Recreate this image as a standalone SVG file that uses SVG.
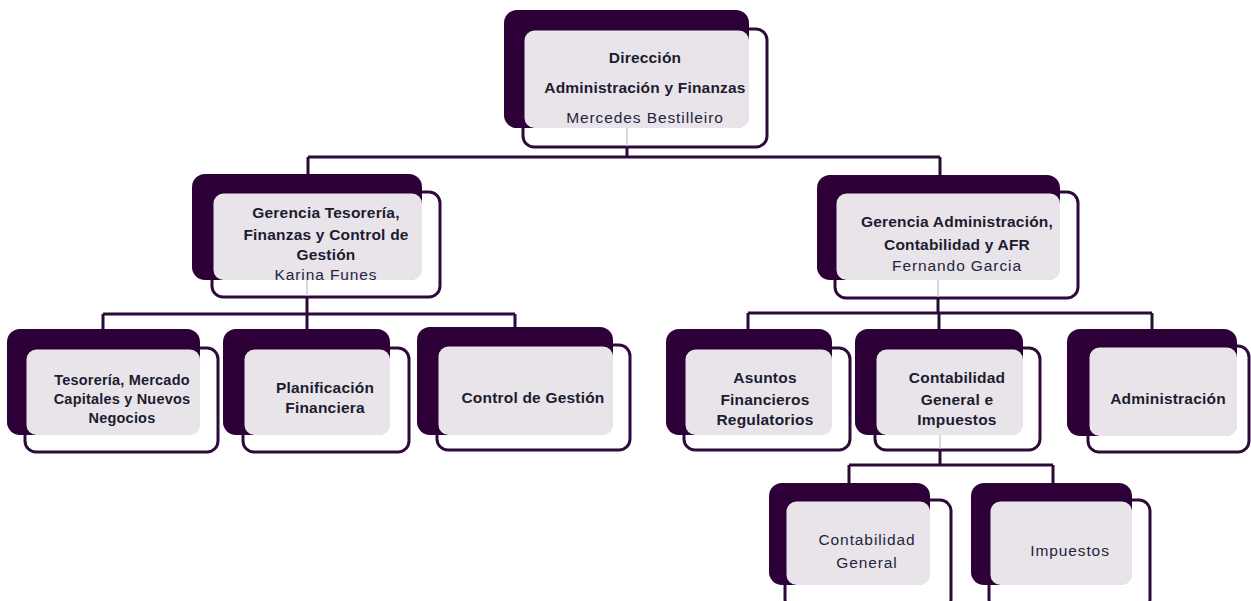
<svg xmlns="http://www.w3.org/2000/svg" width="1251" height="601" viewBox="0 0 1251 601">
<style>
.back{fill:#2d0038;}
.front{fill:#ffffff;stroke:#2d0a3a;stroke-width:3;}
.ov{fill:#e8e4ea;}
.conn{fill:none;stroke:#2a0a38;stroke-width:3;}
.ghost{fill:none;stroke:#dcd8e0;stroke-width:2;}
text{font-family:"Liberation Sans",Arial,sans-serif;fill:#1c1c30;text-anchor:middle;}
.b{font-weight:bold;font-size:15.5px;letter-spacing:0.2px;}
.s{font-size:14.5px;}
.n{font-size:15.5px;letter-spacing:0.9px;fill:#24243c;}
</style>
<rect width="1251" height="601" fill="#ffffff"/>
<g id="connectors">
<path class="conn" d="M627 147 V157 M308 157 H940 M308 157 V176 M940 157 V176"/>
<path class="conn" d="M307 297 V314 M103 314 H515 M103 314 V330 M307 314 V330 M515 314 V328"/>
<path class="conn" d="M938 298 V313 M748 313 H1152 M748 313 V330 M939 313 V330 M1152 313 V330"/>
<path class="conn" d="M940 450 V465 M849 465 H1053 M849 465 V484 M1053 465 V484"/>
</g>
<g id="n-direccion">
<rect class="front" x="523" y="29" width="244" height="118" rx="11"/>
<rect class="back" x="504" y="10" width="245" height="118" rx="13"/>
<rect class="ov" x="524.5" y="30.5" width="224.5" height="97.5" rx="10"/>
<line class="ghost" x1="627" y1="128" x2="627" y2="145.5"/>
<text class="b" x="645" y="63">Dirección</text>
<text class="b" x="645" y="93">Administración y Finanzas</text>
<text class="n" x="645" y="123">Mercedes Bestilleiro</text>
</g>
<g id="n-gerencia-tesoreria">
<rect class="front" x="212" y="192" width="228" height="105" rx="11"/>
<rect class="back" x="192" y="174" width="230" height="106" rx="13"/>
<rect class="ov" x="213.5" y="193.5" width="208.5" height="86.5" rx="10"/>
<line class="ghost" x1="307" y1="280" x2="307" y2="295.5"/>
<text class="b" x="326" y="218">Gerencia Tesorería,</text>
<text class="b" x="326" y="240">Finanzas y Control de</text>
<text class="b" x="326" y="260">Gestión</text>
<text class="n" x="326" y="280">Karina Funes</text>
</g>
<g id="n-gerencia-admin">
<rect class="front" x="835" y="192" width="243" height="106" rx="11"/>
<rect class="back" x="817" y="175" width="243" height="105" rx="13"/>
<rect class="ov" x="836.5" y="193.5" width="223.5" height="86.5" rx="10"/>
<line class="ghost" x1="938" y1="280" x2="938" y2="296.5"/>
<text class="b" x="957" y="227">Gerencia Administración,</text>
<text class="b" x="957" y="250">Contabilidad y AFR</text>
<text class="n" x="957" y="271">Fernando Garcia</text>
</g>
<g id="n-tesoreria">
<rect class="front" x="25" y="348" width="193" height="104" rx="11"/>
<rect class="back" x="7" y="329" width="193" height="106" rx="13"/>
<rect class="ov" x="26.5" y="349.5" width="173.5" height="85.5" rx="10"/>
<text class="b s" x="122" y="385">Tesorería, Mercado</text>
<text class="b s" x="122" y="404">Capitales y Nuevos</text>
<text class="b s" x="122" y="423">Negocios</text>
</g>
<g id="n-planificacion">
<rect class="front" x="243" y="348" width="166" height="104" rx="11"/>
<rect class="back" x="223" y="329" width="167" height="106" rx="13"/>
<rect class="ov" x="244.5" y="349.5" width="145.5" height="85.5" rx="10"/>
<text class="b" x="325" y="393">Planificación</text>
<text class="b" x="325" y="413">Financiera</text>
</g>
<g id="n-control">
<rect class="front" x="437" y="345" width="193" height="105" rx="11"/>
<rect class="back" x="417" y="327" width="196" height="108" rx="13"/>
<rect class="ov" x="438.5" y="346.5" width="174.5" height="88.5" rx="10"/>
<text class="b" x="533" y="403">Control de Gestión</text>
</g>
<g id="n-asuntos">
<rect class="front" x="684" y="348" width="166" height="102" rx="11"/>
<rect class="back" x="666" y="329" width="166" height="106" rx="13"/>
<rect class="ov" x="685.5" y="349.5" width="146.5" height="85.5" rx="10"/>
<text class="b" x="765" y="383">Asuntos</text>
<text class="b" x="765" y="405">Financieros</text>
<text class="b" x="765" y="425">Regulatorios</text>
</g>
<g id="n-contabilidad-impuestos">
<rect class="front" x="875" y="348" width="165" height="102" rx="11"/>
<rect class="back" x="855" y="329" width="168" height="106" rx="13"/>
<rect class="ov" x="876.5" y="349.5" width="146.5" height="85.5" rx="10"/>
<line class="ghost" x1="940" y1="435" x2="940" y2="448.5"/>
<text class="b" x="957" y="383">Contabilidad</text>
<text class="b" x="957" y="405">General e</text>
<text class="b" x="957" y="425">Impuestos</text>
</g>
<g id="n-administracion">
<rect class="front" x="1088" y="346" width="161" height="106" rx="11"/>
<rect class="back" x="1067" y="329" width="170" height="107" rx="13"/>
<rect class="ov" x="1089.5" y="347.5" width="147.5" height="88.5" rx="10"/>
<text class="b" x="1168" y="404">Administración</text>
</g>
<g id="n-contabilidad-general">
<rect class="front" x="785" y="500" width="166" height="110" rx="11"/>
<rect class="back" x="769" y="483" width="161" height="102" rx="13"/>
<rect class="ov" x="786.5" y="501.5" width="143.5" height="83.5" rx="10"/>
<text class="n" x="867" y="545">Contabilidad</text>
<text class="n" x="867" y="568">General</text>
</g>
<g id="n-impuestos">
<rect class="front" x="989" y="500" width="161" height="110" rx="11"/>
<rect class="back" x="971" y="483" width="161" height="102" rx="13"/>
<rect class="ov" x="990.5" y="501.5" width="141.5" height="83.5" rx="10"/>
<text class="n" x="1070" y="556">Impuestos</text>
</g>
</svg>
